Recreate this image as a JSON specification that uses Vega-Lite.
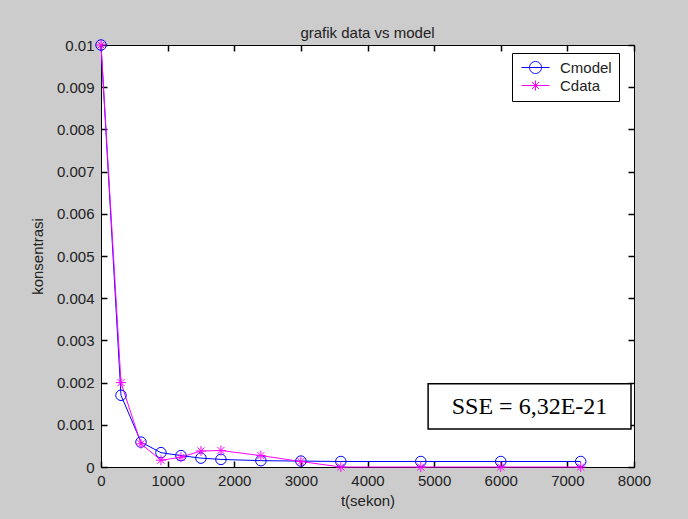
{
  "$schema": "https://vega.github.io/schema/vega-lite/v6.json",
  "width": 533,
  "height": 422,
  "autosize": "none",
  "padding": {"left": 101, "top": 45, "right": 54, "bottom": 52},
  "background": "#cccccc",
  "title": {
    "text": "grafik data vs model",
    "font": "Liberation Sans",
    "fontSize": 15,
    "fontWeight": "normal",
    "color": "#222222",
    "anchor": "middle",
    "offset": -3
  },
  "config": {
    "view": {"fill": "white", "stroke": "#000000", "strokeWidth": 1},
    "font": "Liberation Sans"
  },
  "datasets": {
    "conc": [
      {"series": "Cmodel", "t": 0, "c": 0.01},
      {"series": "Cmodel", "t": 300, "c": 0.0017},
      {"series": "Cmodel", "t": 600, "c": 0.00059},
      {"series": "Cmodel", "t": 900, "c": 0.00034},
      {"series": "Cmodel", "t": 1200, "c": 0.00027},
      {"series": "Cmodel", "t": 1500, "c": 0.00021},
      {"series": "Cmodel", "t": 1800, "c": 0.00018},
      {"series": "Cmodel", "t": 2400, "c": 0.00015},
      {"series": "Cmodel", "t": 3000, "c": 0.00014},
      {"series": "Cmodel", "t": 3600, "c": 0.00013},
      {"series": "Cmodel", "t": 4800, "c": 0.00013},
      {"series": "Cmodel", "t": 6000, "c": 0.00013},
      {"series": "Cmodel", "t": 7200, "c": 0.00013},
      {"series": "Cdata", "t": 0, "c": 0.01},
      {"series": "Cdata", "t": 300, "c": 0.002},
      {"series": "Cdata", "t": 600, "c": 0.00055},
      {"series": "Cdata", "t": 900, "c": 0.00016},
      {"series": "Cdata", "t": 1200, "c": 0.00023},
      {"series": "Cdata", "t": 1500, "c": 0.00038},
      {"series": "Cdata", "t": 1800, "c": 0.00039},
      {"series": "Cdata", "t": 2400, "c": 0.00027},
      {"series": "Cdata", "t": 3000, "c": 0.00013},
      {"series": "Cdata", "t": 3600, "c": 0},
      {"series": "Cdata", "t": 4800, "c": 0},
      {"series": "Cdata", "t": 6000, "c": 0},
      {"series": "Cdata", "t": 7200, "c": 0}
    ]
  },
  "data": {"name": "conc"},
  "layer": [
    {
      "mark": {"type": "line", "strokeWidth": 1},
      "encoding": {
        "x": {
          "field": "t",
          "type": "quantitative",
          "scale": {"domain": [0, 8000], "nice": false},
          "axis": {
            "orient": "bottom",
            "tickCount": 8,
            "format": "d",
            "grid": false,
            "domainColor": "#000000",
            "ticks": true,
            "tickColor": "#000000",
            "tickWidth": 1.5,
            "tickSize": -6,
            "labelFlush": false,
            "labelPadding": 12,
            "labelFont": "Liberation Sans",
            "labelFontSize": 15,
            "labelColor": "#222222",
            "title": "t(sekon)",
            "titleFont": "Liberation Sans",
            "titleFontSize": 15,
            "titleFontWeight": "normal",
            "titleColor": "#222222",
            "titleX": 266.5,
            "titleY": 33,
            "titleBaseline": "middle"
          }
        },
        "y": {
          "field": "c",
          "type": "quantitative",
          "scale": {"domain": [0, 0.01], "nice": false},
          "axis": {
            "orient": "left",
            "tickCount": 10,
            "format": "~g",
            "grid": false,
            "domainColor": "#000000",
            "ticks": true,
            "tickColor": "#000000",
            "tickWidth": 1.5,
            "tickSize": -6,
            "labelFlush": false,
            "labelPadding": 13,
            "labelFont": "Liberation Sans",
            "labelFontSize": 15,
            "labelColor": "#222222",
            "title": "konsentrasi",
            "titleFont": "Liberation Sans",
            "titleFontSize": 15,
            "titleFontWeight": "normal",
            "titleColor": "#222222",
            "titleX": -64,
            "titleY": 211,
            "titleBaseline": "middle",
            "titleAlign": "center"
          }
        },
        "color": {
          "field": "series",
          "type": "nominal",
          "scale": {"domain": ["Cmodel", "Cdata"], "range": ["#0000ff", "#ff00ff"]},
          "legend": {
            "title": null,
            "orient": "none",
            "legendX": 411,
            "legendY": 8,
            "padding": 7,
            "fillColor": "white",
            "strokeColor": "#000000",
            "symbolSize": 196,
            "symbolOffset": 9,
            "symbolStrokeWidth": 1,
            "labelOffset": 17,
            "labelFont": "Liberation Sans",
            "labelFontSize": 15,
            "labelColor": "#222222",
            "rowPadding": 2,
            "encode": {
              "symbols": {
                "update": {
                  "shape": {"signal": "datum.value === 'Cmodel' ? 'M-2,0L2,0M0.86,0A0.86,0.86 0 1,1 -0.86,0A0.86,0.86 0 1,1 0.86,0Z' : 'M-2,0L2,0M0,-0.72L0,0.72M-0.72,0L0.72,0M-0.5,-0.5L0.5,0.5M-0.5,0.5L0.5,-0.5'"},
                  "fill": {"value": "transparent"}
                }
              }
            }
          }
        }
      }
    },
    {
      "transform": [{"filter": "datum.series === 'Cmodel'"}],
      "mark": {"type": "point", "shape": "circle", "filled": false, "strokeWidth": 1, "size": 110, "opacity": 1},
      "encoding": {
        "x": {
          "field": "t",
          "type": "quantitative",
          "axis": {
            "orient": "top",
            "tickCount": 8,
            "grid": false,
            "domainColor": "#000000",
            "ticks": true,
            "tickColor": "#000000",
            "tickWidth": 1.5,
            "tickSize": -6,
            "labels": false,
            "title": null
          }
        },
        "y": {
          "field": "c",
          "type": "quantitative",
          "axis": {
            "orient": "right",
            "tickCount": 10,
            "grid": false,
            "domainColor": "#000000",
            "ticks": true,
            "tickColor": "#000000",
            "tickWidth": 1.5,
            "tickSize": -6,
            "labels": false,
            "title": null
          }
        },
        "color": {"field": "series", "type": "nominal", "legend": null}
      }
    },
    {
      "transform": [{"filter": "datum.series === 'Cdata'"}],
      "mark": {"type": "point", "shape": "M0,-1L0,1M-1,0L1,0M-0.7,-0.7L0.7,0.7M-0.7,0.7L0.7,-0.7", "filled": false, "strokeWidth": 1, "size": 100, "opacity": 1},
      "encoding": {
        "x": {"field": "t", "type": "quantitative", "axis": null},
        "y": {"field": "c", "type": "quantitative", "axis": null},
        "color": {"field": "series", "type": "nominal", "legend": null}
      }
    },
    {
      "data": {"values": [{"label": "SSE = 6,32E-21"}]},
      "mark": {"type": "rect", "fill": "white", "stroke": "#000000", "strokeWidth": 1.5},
      "encoding": {
        "x": {"datum": 4910, "type": "quantitative", "axis": null},
        "x2": {"datum": 7955},
        "y": {"datum": 0.00197, "type": "quantitative", "axis": null},
        "y2": {"datum": 0.0009}
      }
    },
    {
      "data": {"values": [{"label": "SSE = 6,32E-21"}]},
      "mark": {
        "type": "text",
        "font": "Liberation Serif",
        "fontSize": 24,
        "color": "#000000",
        "align": "center",
        "baseline": "middle"
      },
      "encoding": {
        "x": {"datum": 6432, "type": "quantitative", "axis": null},
        "y": {"datum": 0.00143, "type": "quantitative", "axis": null},
        "text": {"field": "label"}
      }
    }
  ],
  "resolve": {"axis": {"x": "independent", "y": "independent"}}
}
